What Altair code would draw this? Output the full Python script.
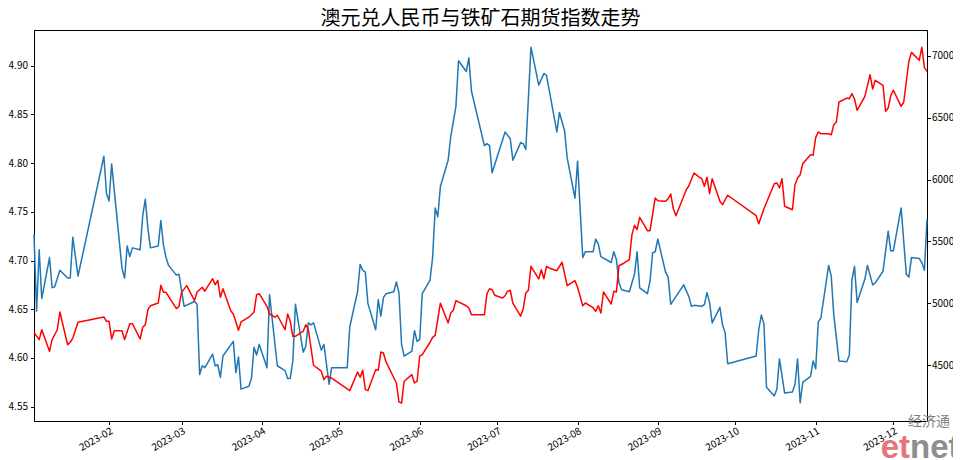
import altair as alt
import pandas as pd

TITLE = "澳元兑人民币与铁矿石期货指数走势"
BASE = "2023-01-01"  # day numbers below count days from this date

# AUD/CNY (left axis)
aud_day = [2, 3, 4, 5, 8, 9, 10, 12, 15, 16, 17, 19, 29, 30, 31, 32, 36, 37, 38, 39, 40, 43, 44, 45, 46, 47,
           50, 51, 52, 53, 54, 57, 58, 60, 64, 65, 66, 67, 68, 71, 72, 73, 74, 75, 79, 80, 81, 82, 85, 86, 87,
           88, 89, 92, 93, 96, 99, 100, 101, 102, 103, 106, 107, 108, 109, 110, 113, 114, 116, 117, 123, 124,
           127, 128, 129, 130, 131, 134, 135, 136, 137, 138, 141, 142, 143, 144, 145, 148, 149, 150, 151, 152,
           155, 156, 157, 158, 159, 162, 163, 165, 166, 169, 170, 171, 176, 177, 178, 179, 184, 186, 187, 190,
           191, 192, 194, 197, 199, 200, 204, 205, 207, 208, 211, 212, 214, 215, 218, 219, 220, 221, 225, 226,
           227, 228, 229, 232, 234, 235, 236, 239, 240, 241, 242, 243, 246, 247, 248, 253, 255, 256, 257, 260,
           261, 262, 263, 264, 267, 268, 269, 270, 281, 282, 283, 284, 285, 288, 289, 290, 292, 295, 296, 297,
           298, 299, 302, 303, 304, 305, 306, 309, 310, 311, 313, 316, 317, 318, 319, 320, 323, 324, 326, 327,
           330, 332, 333, 334, 337, 339, 340, 341, 344, 345, 346, 347]
aud_val = [4.727, 4.648, 4.711, 4.661, 4.703, 4.672, 4.673, 4.690, 4.682, 4.682, 4.724, 4.684, 4.807, 4.769,
           4.761, 4.799, 4.692, 4.682, 4.715, 4.704, 4.713, 4.711, 4.746, 4.763, 4.733, 4.713, 4.715, 4.741,
           4.716, 4.703, 4.695, 4.685, 4.686, 4.653, 4.658, 4.655, 4.583, 4.592, 4.590, 4.604, 4.592, 4.593,
           4.580, 4.602, 4.617, 4.585, 4.601, 4.568, 4.571, 4.579, 4.611, 4.603, 4.614, 4.590, 4.665, 4.592,
           4.587, 4.579, 4.579, 4.597, 4.655, 4.606, 4.612, 4.636, 4.634, 4.636, 4.608, 4.614, 4.573, 4.590,
           4.590, 4.632, 4.668, 4.696, 4.690, 4.688, 4.656, 4.629, 4.660, 4.643, 4.662, 4.666, 4.668, 4.678,
           4.667, 4.614, 4.602, 4.607, 4.628, 4.617, 4.619, 4.666, 4.680, 4.703, 4.754, 4.745, 4.776, 4.803,
           4.827, 4.858, 4.905, 4.894, 4.908, 4.874, 4.818, 4.820, 4.818, 4.790, 4.832, 4.825, 4.803, 4.821,
           4.820, 4.814, 4.919, 4.880, 4.892, 4.890, 4.832, 4.852, 4.833, 4.805, 4.764, 4.802, 4.703, 4.709,
           4.709, 4.722, 4.717, 4.704, 4.698, 4.709, 4.701, 4.677, 4.670, 4.668, 4.686, 4.709, 4.672, 4.666,
           4.679, 4.708, 4.709, 4.722, 4.688, 4.683, 4.655, 4.675, 4.663, 4.653, 4.654, 4.653, 4.655, 4.667,
           4.657, 4.636, 4.652, 4.634, 4.626, 4.594, 4.602, 4.629, 4.644, 4.635, 4.570, 4.561, 4.568, 4.599,
           4.564, 4.565, 4.573, 4.599, 4.554, 4.575, 4.581, 4.597, 4.589, 4.637, 4.641, 4.695, 4.684, 4.644,
           4.597, 4.596, 4.603, 4.680, 4.694, 4.657, 4.681, 4.695, 4.675, 4.677, 4.689, 4.730, 4.710, 4.710,
           4.754, 4.686, 4.683, 4.703, 4.702, 4.698, 4.690, 4.742]

# Iron ore futures index (right axis)
ore_day = [2, 4, 5, 8, 9, 11, 12, 15, 16, 17, 19, 29, 30, 31, 32, 33, 36, 37, 39, 40, 43, 44, 45, 46, 47, 50,
           51, 52, 53, 57, 58, 59, 61, 64, 65, 67, 68, 71, 72, 73, 74, 75, 78, 79, 81, 82, 85, 87, 88, 89, 92,
           93, 95, 96, 99, 100, 101, 102, 103, 106, 107, 108, 110, 113, 114, 115, 117, 124, 127, 128, 129, 130,
           131, 134, 135, 136, 137, 138, 142, 143, 144, 145, 148, 149, 150, 151, 152, 155, 156, 157, 159, 162,
           163, 164, 165, 169, 170, 171, 176, 177, 178, 179, 180, 183, 184, 185, 186, 187, 190, 191, 192, 193,
           194, 197, 198, 199, 200, 201, 204, 206, 208, 211, 212, 214, 215, 218, 219, 220, 221, 222, 225, 226,
           227, 228, 230, 232, 233, 234, 235, 236, 239, 240, 242, 243, 246, 247, 248, 249, 250, 254, 255, 257,
           259, 260, 261, 262, 263, 264, 267, 268, 270, 281, 282, 284, 288, 289, 290, 291, 292, 295, 296, 297,
           298, 299, 302, 303, 304, 305, 306, 309, 310, 311, 312, 313, 316, 317, 318, 319, 320, 323, 325, 326,
           327, 330, 331, 332, 333, 334, 337, 338, 340, 341, 344, 345, 346, 347]
ore_val = [4766, 4707, 4787, 4613, 4707, 4787, 4930, 4666, 4686, 4720, 4847, 4890, 4855, 4855, 4712, 4779,
           4779, 4707, 4836, 4836, 4712, 4807, 4828, 4949, 4981, 5003, 5146, 5089, 5089, 4957, 4976, 5089,
           5143, 5022, 5092, 5130, 5098, 5199, 5151, 5186, 5049, 5118, 4941, 4914, 4783, 4850, 4888, 4930,
           5070, 5078, 4976, 4914, 4888, 4904, 4787, 4914, 4855, 4734, 4734, 4775, 4828, 4787, 4500, 4452,
           4384, 4411, 4397, 4295, 4446, 4403, 4460, 4303, 4295, 4464, 4460, 4607, 4599, 4527, 4357, 4204,
           4195, 4371, 4424, 4357, 4371, 4573, 4586, 4686, 4726, 4742, 5001, 4842, 4922, 4944, 5022, 4981,
           4963, 4909, 4909, 5078, 5118, 5110, 5065, 5043, 5062, 5098, 5106, 5001, 4896, 4957, 5084, 5106,
           5299, 5197, 5272, 5199, 5299, 5286, 5264, 5332, 5143, 5183, 5130, 4981, 5003, 4965, 4936, 4981,
           4922, 5092, 4995, 5098, 5092, 5304, 5326, 5353, 5555, 5630, 5595, 5695, 5587, 5587, 5851, 5829,
           5824, 5845, 5883, 5764, 5708, 5918, 5950, 6053, 6020, 6007, 5945, 6018, 5886, 6007, 5824, 5797,
           5873, 5708, 5643, 5764, 5966, 5972, 5932, 6007, 5784, 5756, 5958, 6012, 6039, 6128, 6201, 6196,
           6341, 6384, 6370, 6370, 6362, 6443, 6465, 6626, 6658, 6653, 6693, 6650, 6559, 6672, 6847, 6731,
           6801, 6761, 6551, 6578, 6677, 6721, 6591, 6624, 6955, 7027, 6963, 7068, 6906, 6874]

left_ticks = [4.55, 4.60, 4.65, 4.70, 4.75, 4.80, 4.85, 4.90]
right_ticks = [4500, 5000, 5500, 6000, 6500, 7000]
month_ticks = list(range(2, 13))

base = pd.Timestamp(BASE)
aud_df = pd.DataFrame({"date": base + pd.to_timedelta(aud_day, unit="D"), "aud": aud_val})
ore_df = pd.DataFrame({"date": base + pd.to_timedelta(ore_day, unit="D"), "ore": ore_val})

FONT = "Noto Sans CJK SC"

x_enc = alt.X(
    "date:T",
    scale=alt.Scale(
        domain=[alt.DateTime(year=2023, month=1, date=3), alt.DateTime(year=2023, month=12, date=14)],
        nice=False,
    ),
    axis=alt.Axis(
        values=[alt.DateTime(year=2023, month=m, date=1) for m in month_ticks],
        format="%Y-%m",
        labelAngle=-30,
        labelAlign="right",
        labelBaseline="top",
        title=None,
        grid=False,
        labelPadding=1,
    ),
)

aud_line = alt.Chart(aud_df).mark_line(color="#1f77b4", strokeWidth=1.5, strokeJoin="round").encode(
    x=x_enc,
    y=alt.Y(
        "aud:Q",
        scale=alt.Scale(domain=[4.5353, 4.9366], nice=False, zero=False),
        axis=alt.Axis(values=left_ticks, format=".2f", title=None, grid=False, orient="left"),
    ),
)

ore_line = alt.Chart(ore_df).mark_line(color="#ff0000", strokeWidth=1.5, strokeJoin="round").encode(
    x=x_enc,
    y=alt.Y(
        "ore:Q",
        scale=alt.Scale(domain=[4050, 7207.5], nice=False, zero=False),
        axis=alt.Axis(values=right_ticks, format="d", title=None, grid=False, orient="right",
                      labelPadding=1),
    ),
)

lines = alt.layer(aud_line, ore_line).resolve_scale(y="independent")

wm_df = pd.DataFrame({"cn": ["经济通"], "a": ["et"], "b": ["net"]})
wm_cn = alt.Chart(wm_df).mark_text(font=FONT, fontSize=14, color="#808080", align="center",
                                   baseline="alphabetic").encode(
    x=alt.value(895), y=alt.value(396), text="cn:N")
wm_a = alt.Chart(wm_df).mark_text(font="Liberation Sans", fontSize=33, fontWeight="bold", color="#e9737c",
                                  align="right", baseline="alphabetic").encode(
    x=alt.value(876), y=alt.value(428), text="a:N")
wm_b = alt.Chart(wm_df).mark_text(font="Liberation Sans", fontSize=33, fontWeight="bold", color="#8e8e8e",
                                  align="left", baseline="alphabetic").encode(
    x=alt.value(876), y=alt.value(428), text="b:N")

chart = (
    alt.layer(lines, wm_cn, wm_a, wm_b)
    .properties(
        width=893,
        height=391,
        title=alt.TitleParams(TITLE, fontSize=20, font=FONT, fontWeight="normal", color="black",
                              anchor="middle", offset=1),
        padding={"left": 26, "top": 22, "right": 26, "bottom": 38},
        autosize=alt.AutoSizeParams(type="none"),
    )
    .configure_view(stroke="black", strokeWidth=1)
    .configure_axis(
        domainColor="black",
        domainWidth=1,
        tickColor="black",
        tickWidth=1,
        tickSize=3.5,
        labelFont=FONT,
        labelFontSize=10,
        labelColor="black",
        labelPadding=3,
    )
)

chart.save("out.html", embed_options={"renderer": "svg", "actions": False})
